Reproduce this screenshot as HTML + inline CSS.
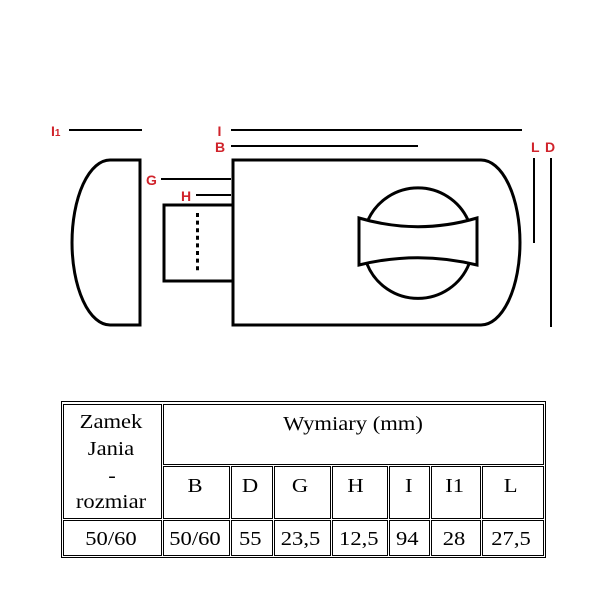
<!DOCTYPE html>
<html><head><meta charset="utf-8"><style>
html,body{margin:0;padding:0;background:#fff;}
svg{display:block;}
.lbl{font-family:"Liberation Sans",sans-serif;font-weight:bold;font-size:14px;fill:#d0232b;}
.t{font-family:"Liberation Serif",serif;font-size:20px;fill:#000;}
</style></head><body>
<svg width="600" height="600" viewBox="0 0 600 600" xmlns="http://www.w3.org/2000/svg">
<rect width="600" height="600" fill="#fff"/>
<!-- dimension lines -->
<g stroke="#000" stroke-width="2" fill="none">
  <line x1="69" y1="130" x2="142" y2="130"/>
  <line x1="231" y1="130" x2="522" y2="130"/>
  <line x1="231" y1="146" x2="418" y2="146"/>
  <line x1="161" y1="179" x2="231" y2="179"/>
  <line x1="196" y1="195" x2="231" y2="195"/>
  <line x1="534" y1="158" x2="534" y2="243"/>
  <line x1="551" y1="158" x2="551" y2="327"/>
</g>
<!-- labels -->
<text class="lbl" x="51" y="136">I<tspan font-size="10">1</tspan></text>
<text class="lbl" x="217.5" y="136">I</text>
<text class="lbl" x="215" y="152">B</text>
<text class="lbl" x="146" y="185">G</text>
<text class="lbl" x="181" y="201">H</text>
<text class="lbl" x="531" y="152">L</text>
<text class="lbl" x="545" y="152">D</text>
<!-- shapes -->
<g stroke="#000" stroke-width="3" fill="none" stroke-linejoin="miter">
  <path d="M140,160 L110,160 A38,82.5 0 0 0 110,325 L140,325 Z"/>
  <path d="M233,160 L481,160 A39,82.5 0 0 1 481,325 L233,325 Z"/>
  <path d="M233,205 L164,205 L164,281 L233,281"/>
  <path d="M368,220 A55,55 0 0 1 468,220"/>
  <path d="M367,264 A55,55 0 0 0 469,264"/>
  <path d="M359,218 Q418,235.4 477,218 L477,265 Q418,250.4 359,265 Z"/>
</g>
<line x1="197.5" y1="213" x2="197.5" y2="273" stroke="#000" stroke-width="3" stroke-dasharray="4,3.6"/>
<!-- table -->
<g stroke="#000" stroke-width="1" fill="none">
  <rect x="61.5" y="401.5" width="484" height="156"/>
  <rect x="63.5" y="404.5" width="98" height="114"/>
  <rect x="163.5" y="404.5" width="380" height="60"/>
  <rect x="163.5" y="466.5" width="66" height="52"/>
  <rect x="231.5" y="466.5" width="41" height="52"/>
  <rect x="274.5" y="466.5" width="56" height="52"/>
  <rect x="332.5" y="466.5" width="55" height="52"/>
  <rect x="389.5" y="466.5" width="40" height="52"/>
  <rect x="431.5" y="466.5" width="49" height="52"/>
  <rect x="482.5" y="466.5" width="61" height="52"/>
  <rect x="63.5" y="520.5" width="98" height="35"/>
  <rect x="163.5" y="520.5" width="66" height="35"/>
  <rect x="231.5" y="520.5" width="41" height="35"/>
  <rect x="274.5" y="520.5" width="56" height="35"/>
  <rect x="332.5" y="520.5" width="55" height="35"/>
  <rect x="389.5" y="520.5" width="40" height="35"/>
  <rect x="431.5" y="520.5" width="49" height="35"/>
  <rect x="482.5" y="520.5" width="61" height="35"/>
</g>
<g class="t" text-anchor="middle">
  <text transform="translate(111,428) scale(1.13,1)">Zamek</text>
  <text transform="translate(111,455) scale(1.13,1)">Jania</text>
  <text transform="translate(112,482) scale(1.13,1)">-</text>
  <text transform="translate(111,508) scale(1.13,1)">rozmiar</text>
  <text transform="translate(353,430) scale(1.13,1)">Wymiary (mm)</text>
  <text transform="translate(195,492) scale(1.13,1)">B</text>
  <text transform="translate(250,492) scale(1.13,1)">D</text>
  <text transform="translate(300,492) scale(1.13,1)">G</text>
  <text transform="translate(355.5,492) scale(1.13,1)">H</text>
  <text transform="translate(408.8,492) scale(1.13,1)">I</text>
  <text transform="translate(454.7,492) scale(1.13,1)">I1</text>
  <text transform="translate(510.7,492) scale(1.13,1)">L</text>
  <text transform="translate(111,545) scale(1.13,1)">50/60</text>
  <text transform="translate(195,545) scale(1.13,1)">50/60</text>
  <text transform="translate(250.3,545) scale(1.13,1)">55</text>
  <text transform="translate(300.5,545) scale(1.13,1)">23,5</text>
  <text transform="translate(358.8,545) scale(1.13,1)">12,5</text>
  <text transform="translate(407.3,545) scale(1.13,1)">94</text>
  <text transform="translate(454,545) scale(1.13,1)">28</text>
  <text transform="translate(511,545) scale(1.13,1)">27,5</text>
</g>
</svg>
</body></html>
